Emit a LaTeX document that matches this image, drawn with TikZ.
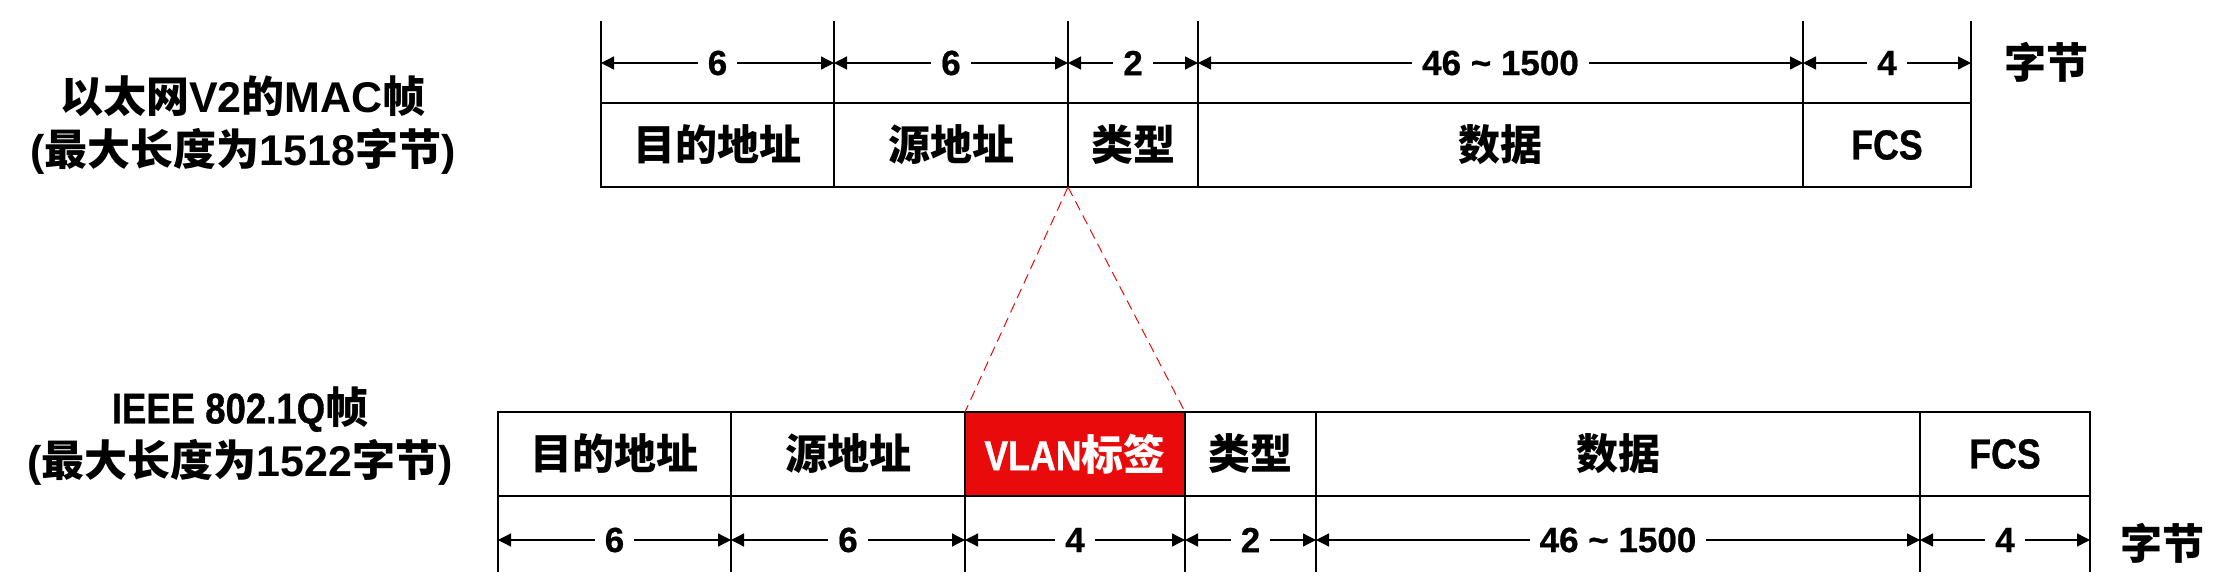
\documentclass[tikz,border=0pt]{standalone}
\usepackage{fontspec}
\setmainfont{Noto Sans CJK SC}
\newfontfamily\latfont{Liberation Sans}[BoldFont={Liberation Sans Bold}]
\newfontfamily\narfont{Liberation Sans Bold}[FakeStretch=0.85, FakeBold=0.8]
\newfontfamily\numfont{Liberation Sans Bold}[FakeBold=0.6]
\usetikzlibrary{arrows.meta,positioning}
\definecolor{tagred}{RGB}{233,11,11}
\newcommand{\lat}[1]{{\latfont #1}}
\newcommand{\nar}[1]{{\narfont #1}}

\tikzset{
  field/.style={draw, line width=0.65pt, minimum height=42pt, inner sep=0pt, outer sep=0pt,
    font=\bfseries\fontsize{21}{24}\selectfont},
  frame/.style={line width=1pt},
  tick/.style={line width=0.65pt},
  dim/.style={line width=0.65pt, {Triangle[length=6.5pt,width=6.5pt]}-{Triangle[length=6.5pt,width=6.5pt]}},
  size/.style={fill=white, inner xsep=5pt, inner ysep=1pt,
    font=\numfont\fontsize{17.5}{20}\selectfont},
  unit/.style={font=\bfseries\fontsize{21}{24}\selectfont},
  title/.style={align=center, font=\bfseries\fontsize{21.5}{26.5}\selectfont},
  zoomline/.style={tagred, line width=0.5pt, dash pattern=on 5pt off 3pt},
}

\begin{document}
\begin{tikzpicture}[x=0.5pt,y=-0.5pt]
    \useasboundingbox (0,0) rectangle (2216,583);

    % Ethernet V2 frame
    \node[title] (v2title) at (243,125) {以太网\lat{V2}的\lat{MAC}帧\\\lat{(}最大长度为\lat{1518}字节\lat{)}};
    \node[field, minimum width=116.5pt, anchor=west] (dst1) at (601,145) {目的地址};
    \node[field, minimum width=117pt, right=0pt of dst1] (src1) {源地址};
    \node[field, minimum width=65pt, right=0pt of src1] (type1) {类型};
    \node[field, minimum width=302.5pt, right=0pt of type1] (data1) {数据};
    \node[field, minimum width=84pt, right=0pt of data1] (fcs1) {\nar{FCS}};
    \draw[frame] (dst1.north west) rectangle (fcs1.south east);

    % byte counts above
    \coordinate (top1) at (0,21);
    \coordinate (arr1) at (0,63);
    \foreach \n in {dst1,src1,type1,data1,fcs1}
        \draw[tick] (\n.north west) -- (\n.north west |- top1);
    \draw[tick] (fcs1.north east) -- (fcs1.north east |- top1);
    \foreach \n/\s in {dst1/6, src1/6, type1/2, data1/46 \textasciitilde{} 1500, fcs1/4}
        \draw[dim] (\n.north west |- arr1) -- (\n.north east |- arr1) node[size, midway] {\s};
    \node[unit] (unit1) at (2046,62) {字节};

    % IEEE 802.1Q frame
    \node[title] (qtitle) at (240,436) {\nar{IEEE 802.1Q}帧\\\lat{(}最大长度为\lat{1522}字节\lat{)}};
    \node[field, minimum width=116.5pt, anchor=west] (dst2) at (498,454) {目的地址};
    \node[field, minimum width=117pt, right=0pt of dst2] (src2) {源地址};
    \node[field, minimum width=110pt, right=0pt of src2, fill=tagred, text=white] (tag2) {\nar{VLAN}标签};
    \node[field, minimum width=65.5pt, right=0pt of tag2] (type2) {类型};
    \node[field, minimum width=302pt, right=0pt of type2] (data2) {数据};
    \node[field, minimum width=85pt, right=0pt of data2] (fcs2) {\nar{FCS}};
    \draw[frame] (dst2.north west) rectangle (fcs2.south east);

    % byte counts below
    \coordinate (bot2) at (0,572);
    \coordinate (arr2) at (0,540);
    \foreach \n in {dst2,src2,tag2,type2,data2,fcs2}
        \draw[tick] (\n.south west) -- (\n.south west |- bot2);
    \draw[tick] (fcs2.south east) -- (fcs2.south east |- bot2);
    \foreach \n/\s in {dst2/6, src2/6, tag2/4, type2/2, data2/46 \textasciitilde{} 1500, fcs2/4}
        \draw[dim] (\n.south west |- arr2) -- (\n.south east |- arr2) node[size, midway] {\s};
    \node[unit] (unit2) at (2162,543) {字节};

    % where the tag goes in
    \draw[zoomline] (src1.south east) -- (tag2.north west);
    \draw[zoomline] (src1.south east) -- (tag2.north east);
\end{tikzpicture}
\end{document}
